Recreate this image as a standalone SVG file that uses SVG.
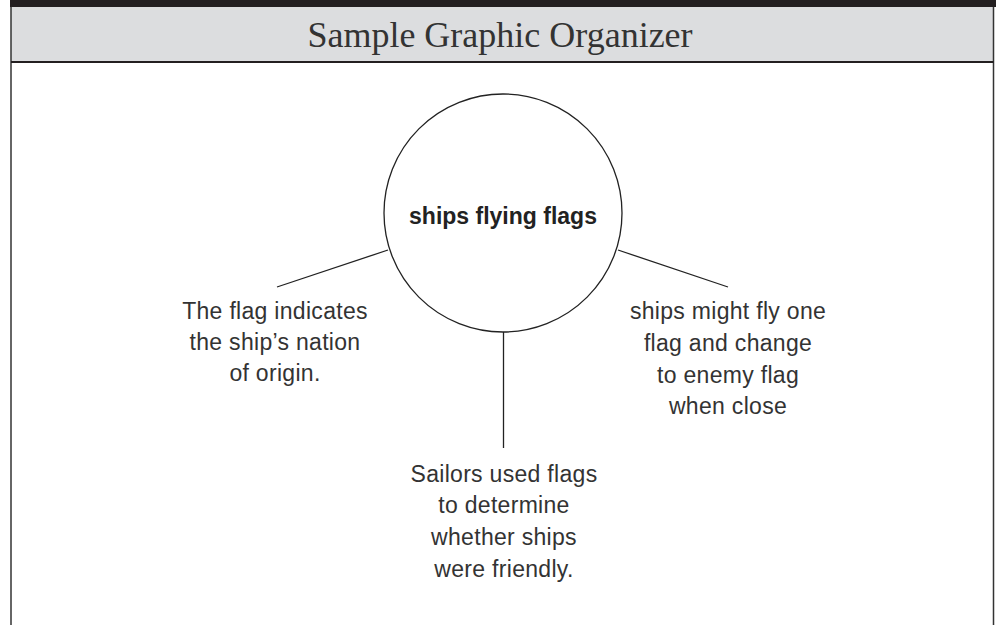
<svg xmlns="http://www.w3.org/2000/svg" width="996" height="625" viewBox="0 0 996 625">
<style>
.hand{font-family:"Liberation Sans",Arial,sans-serif;font-size:23px;letter-spacing:0.3px;fill:#333;text-anchor:middle}
.conn line{stroke:#222;stroke-width:1.3}
</style>
<rect width="996" height="625" fill="#fff"/>
<g id="frame">
<rect x="11" y="7" width="982.5" height="55" fill="#dcdddf"/>
<rect x="10" y="0" width="986" height="7" fill="#231f20"/>
<line x1="11" y1="7" x2="11" y2="625" stroke="#333" stroke-width="1.5"/>
<line x1="993.5" y1="7" x2="993.5" y2="625" stroke="#333" stroke-width="1.5"/>
<line x1="11" y1="62" x2="993.5" y2="62" stroke="#231f20" stroke-width="1.8"/>
<text x="500" y="47" font-family="'Liberation Serif','Times New Roman',serif" font-size="36" fill="#333" text-anchor="middle">Sample Graphic Organizer</text>
</g>
<g class="conn" id="connectors">
<line x1="388" y1="250" x2="277" y2="287"/>
<line x1="618" y1="250" x2="728" y2="287"/>
<line x1="503.5" y1="332" x2="503.5" y2="448"/>
</g>
<g id="center">
<circle cx="503" cy="213" r="119" fill="#fff" stroke="#222" stroke-width="1.3"/>
<text x="503" y="224" font-family="'Liberation Sans',Arial,sans-serif" font-weight="bold" font-size="23" fill="#222" text-anchor="middle">ships flying flags</text>
</g>
<g id="left">
<text class="hand" x="275" y="319">The flag indicates</text>
<text class="hand" x="275" y="350">the ship’s nation</text>
<text class="hand" x="275" y="381">of origin.</text>
</g>
<g id="right">
<text class="hand" x="728" y="319">ships might fly one</text>
<text class="hand" x="728" y="351">flag and change</text>
<text class="hand" x="728" y="383">to enemy flag</text>
<text class="hand" x="728" y="414">when close</text>
</g>
<g id="bottom">
<text class="hand" x="504" y="482">Sailors used flags</text>
<text class="hand" x="504" y="513">to determine</text>
<text class="hand" x="504" y="545">whether ships</text>
<text class="hand" x="504" y="577">were friendly.</text>
</g>
</svg>
